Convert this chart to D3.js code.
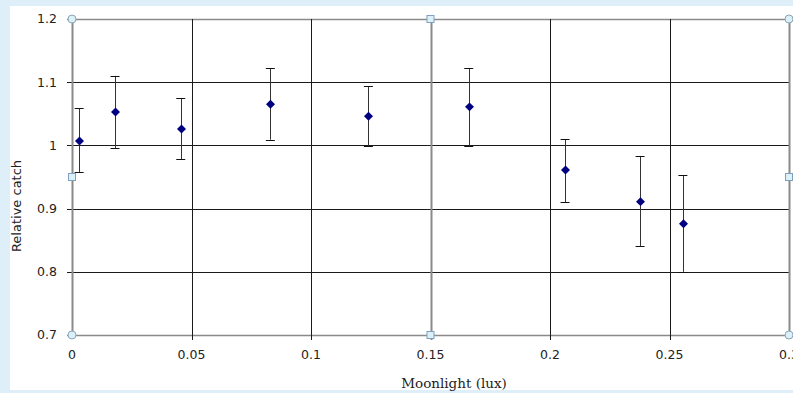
<!DOCTYPE html>
<html>
<head>
<meta charset="utf-8">
<script src="https://cdn.jsdelivr.net/npm/d3@7/dist/d3.min.js"></script>
<style>
  html, body { margin: 0; padding: 0; background: #dfeffa; }
  svg { display: block; }
</style>
</head>
<body>
<div id="chart"></div>
<script>
// moonlight (lux) vs relative catch, with error bars
const moonlight = [0.003, 0.018, 0.0455, 0.083, 0.124, 0.166, 0.2063, 0.2377, 0.2556]
const catchMean = [1.007, 1.053, 1.026, 1.065, 1.046, 1.061, 0.961, 0.911, 0.876]
const errHigh   = [1.059, 1.110, 1.075, 1.122, 1.094, 1.122, 1.010, 0.983, 0.953]
const errLow    = [0.958, 0.996, 0.978, 1.009, 0.999, 0.999, 0.910, 0.841, 0.800]
const xTicks = [0, 0.05, 0.1, 0.15, 0.2, 0.25, 0.3]
const yTicks = [0.7, 0.8, 0.9, 1, 1.1, 1.2]

const W = 793, H = 393
const svg = d3.select('#chart').append('svg')
  .attr('width', W)
  .attr('height', H)

/* white chart panel */
svg.append('rect')
  .attr('x', 10).attr('y', 6)
  .attr('width', W - 10).attr('height', 384)
  .attr('fill', '#fff')

const x = d3.scaleLinear().domain([0, 0.3]).range([72, 789])
const y = d3.scaleLinear().domain([0.7, 1.2]).range([335, 19])

const gridColor = '#1a1a1a'
const frameColor = '#8a8a8a'

/* horizontal gridlines with ticks out to the left */
svg.append('g').selectAll('line')
  .data(yTicks)
  .join('line')
  .attr('x1', 67)
  .attr('x2', 789)
  .attr('y1', d => Math.round(y(d)) + 0.5)
  .attr('y2', d => Math.round(y(d)) + 0.5)
  .attr('stroke', d => (d === 0.7 || d === 1.2) ? frameColor : gridColor)
  .attr('stroke-width', d => (d === 0.7 || d === 1.2) ? 1.5 : 1)

/* vertical gridlines with ticks hanging below */
svg.append('g').selectAll('line')
  .data(xTicks)
  .join('line')
  .attr('x1', d => Math.round(x(d)) + 0.5)
  .attr('x2', d => Math.round(x(d)) + 0.5)
  .attr('y1', 19)
  .attr('y2', d => (d === 0 || d === 0.3) ? 335 : 340)
  .attr('stroke', d => (d === 0 || d === 0.15 || d === 0.3) ? frameColor : gridColor)
  .attr('stroke-width', d => (d === 0 || d === 0.15 || d === 0.3) ? 2 : 1)

/* tick labels */
svg.append('g').selectAll('text')
  .data(yTicks)
  .join('text')
  .attr('x', 57)
  .attr('y', d => y(d))
  .attr('dy', '0.35em')
  .attr('text-anchor', 'end')
  .attr('font-family', "'DejaVu Sans', Verdana, sans-serif")
  .attr('font-size', '12.5px')
  .attr('fill', '#222')
  .text(d => d3.format('')(d))

svg.append('g').selectAll('text')
  .data(xTicks)
  .join('text')
  .attr('x', d => x(d))
  .attr('y', 359)
  .attr('text-anchor', 'middle')
  .attr('font-family', "'DejaVu Sans', Verdana, sans-serif")
  .attr('font-size', '12.5px')
  .attr('fill', '#222')
  .text(d => d3.format('')(d))

/* axis titles */
svg.append('text')
  .attr('transform', 'translate(21,206) rotate(-90)')
  .attr('text-anchor', 'middle')
  .attr('font-family', "'DejaVu Sans', Verdana, sans-serif")
  .attr('font-size', '13px')
  .attr('fill', '#222')
  .text('Relative catch')

svg.append('text')
  .attr('x', 454)
  .attr('y', 388)
  .attr('text-anchor', 'middle')
  .attr('font-family', "'DejaVu Serif', Cambria, serif")
  .attr('font-size', '13.5px')
  .attr('fill', '#222')
  .text('Moonlight (lux)')

/* error bars */
const pts = moonlight.map((m, i) => ({ m, v: catchMean[i], lo: errLow[i], hi: errHigh[i] }))
const bars = svg.append('g').selectAll('g')
  .data(pts)
  .join('g')

bars.append('line')
  .attr('x1', d => Math.round(x(d.m)) + 0.5)
  .attr('x2', d => Math.round(x(d.m)) + 0.5)
  .attr('y1', d => y(d.hi))
  .attr('y2', d => y(d.lo))
  .attr('stroke', '#333')
  .attr('stroke-width', 1)

bars.selectAll('.cap')
  .data(d => [{ m: d.m, v: d.hi }, { m: d.m, v: d.lo }])
  .join('line')
  .attr('class', 'cap')
  .attr('x1', d => x(d.m) - 4.5)
  .attr('x2', d => x(d.m) + 4.5)
  .attr('y1', d => Math.round(y(d.v)) + 0.5)
  .attr('y2', d => Math.round(y(d.v)) + 0.5)
  .attr('stroke', '#111')
  .attr('stroke-width', 1)

/* diamond markers */
svg.append('g').selectAll('path')
  .data(pts)
  .join('path')
  .attr('d', d3.symbol(d3.symbolSquare, 40))
  .attr('transform', d => `translate(${Math.round(x(d.m)) + 0.5},${y(d.v)}) rotate(45)`)
  .attr('fill', '#000080')

/* plot-area selection handles */
const handles = [
  { hx: 0, hy: 1.2, shape: 'c' }, { hx: 0.15, hy: 1.2, shape: 's' }, { hx: 0.3, hy: 1.2, shape: 'c' },
  { hx: 0, hy: 0.95, shape: 's' }, { hx: 0.3, hy: 0.95, shape: 's' },
  { hx: 0, hy: 0.7, shape: 'c' }, { hx: 0.15, hy: 0.7, shape: 's' }, { hx: 0.3, hy: 0.7, shape: 'c' }
]
const hg = svg.append('g')
hg.selectAll('circle')
  .data(handles.filter(h => h.shape === 'c'))
  .join('circle')
  .attr('cx', d => x(d.hx))
  .attr('cy', d => y(d.hy))
  .attr('r', 4)
  .attr('fill', '#dcf0f7')
  .attr('stroke', '#8aa6ba')
  .attr('stroke-width', 1)
hg.selectAll('rect')
  .data(handles.filter(h => h.shape === 's'))
  .join('rect')
  .attr('x', d => x(d.hx) - 3.5)
  .attr('y', d => y(d.hy) - 3.5)
  .attr('width', 7)
  .attr('height', 7)
  .attr('fill', '#dcf0f7')
  .attr('stroke', '#7f9fc0')
  .attr('stroke-width', 1)
</script>
</body>
</html>
